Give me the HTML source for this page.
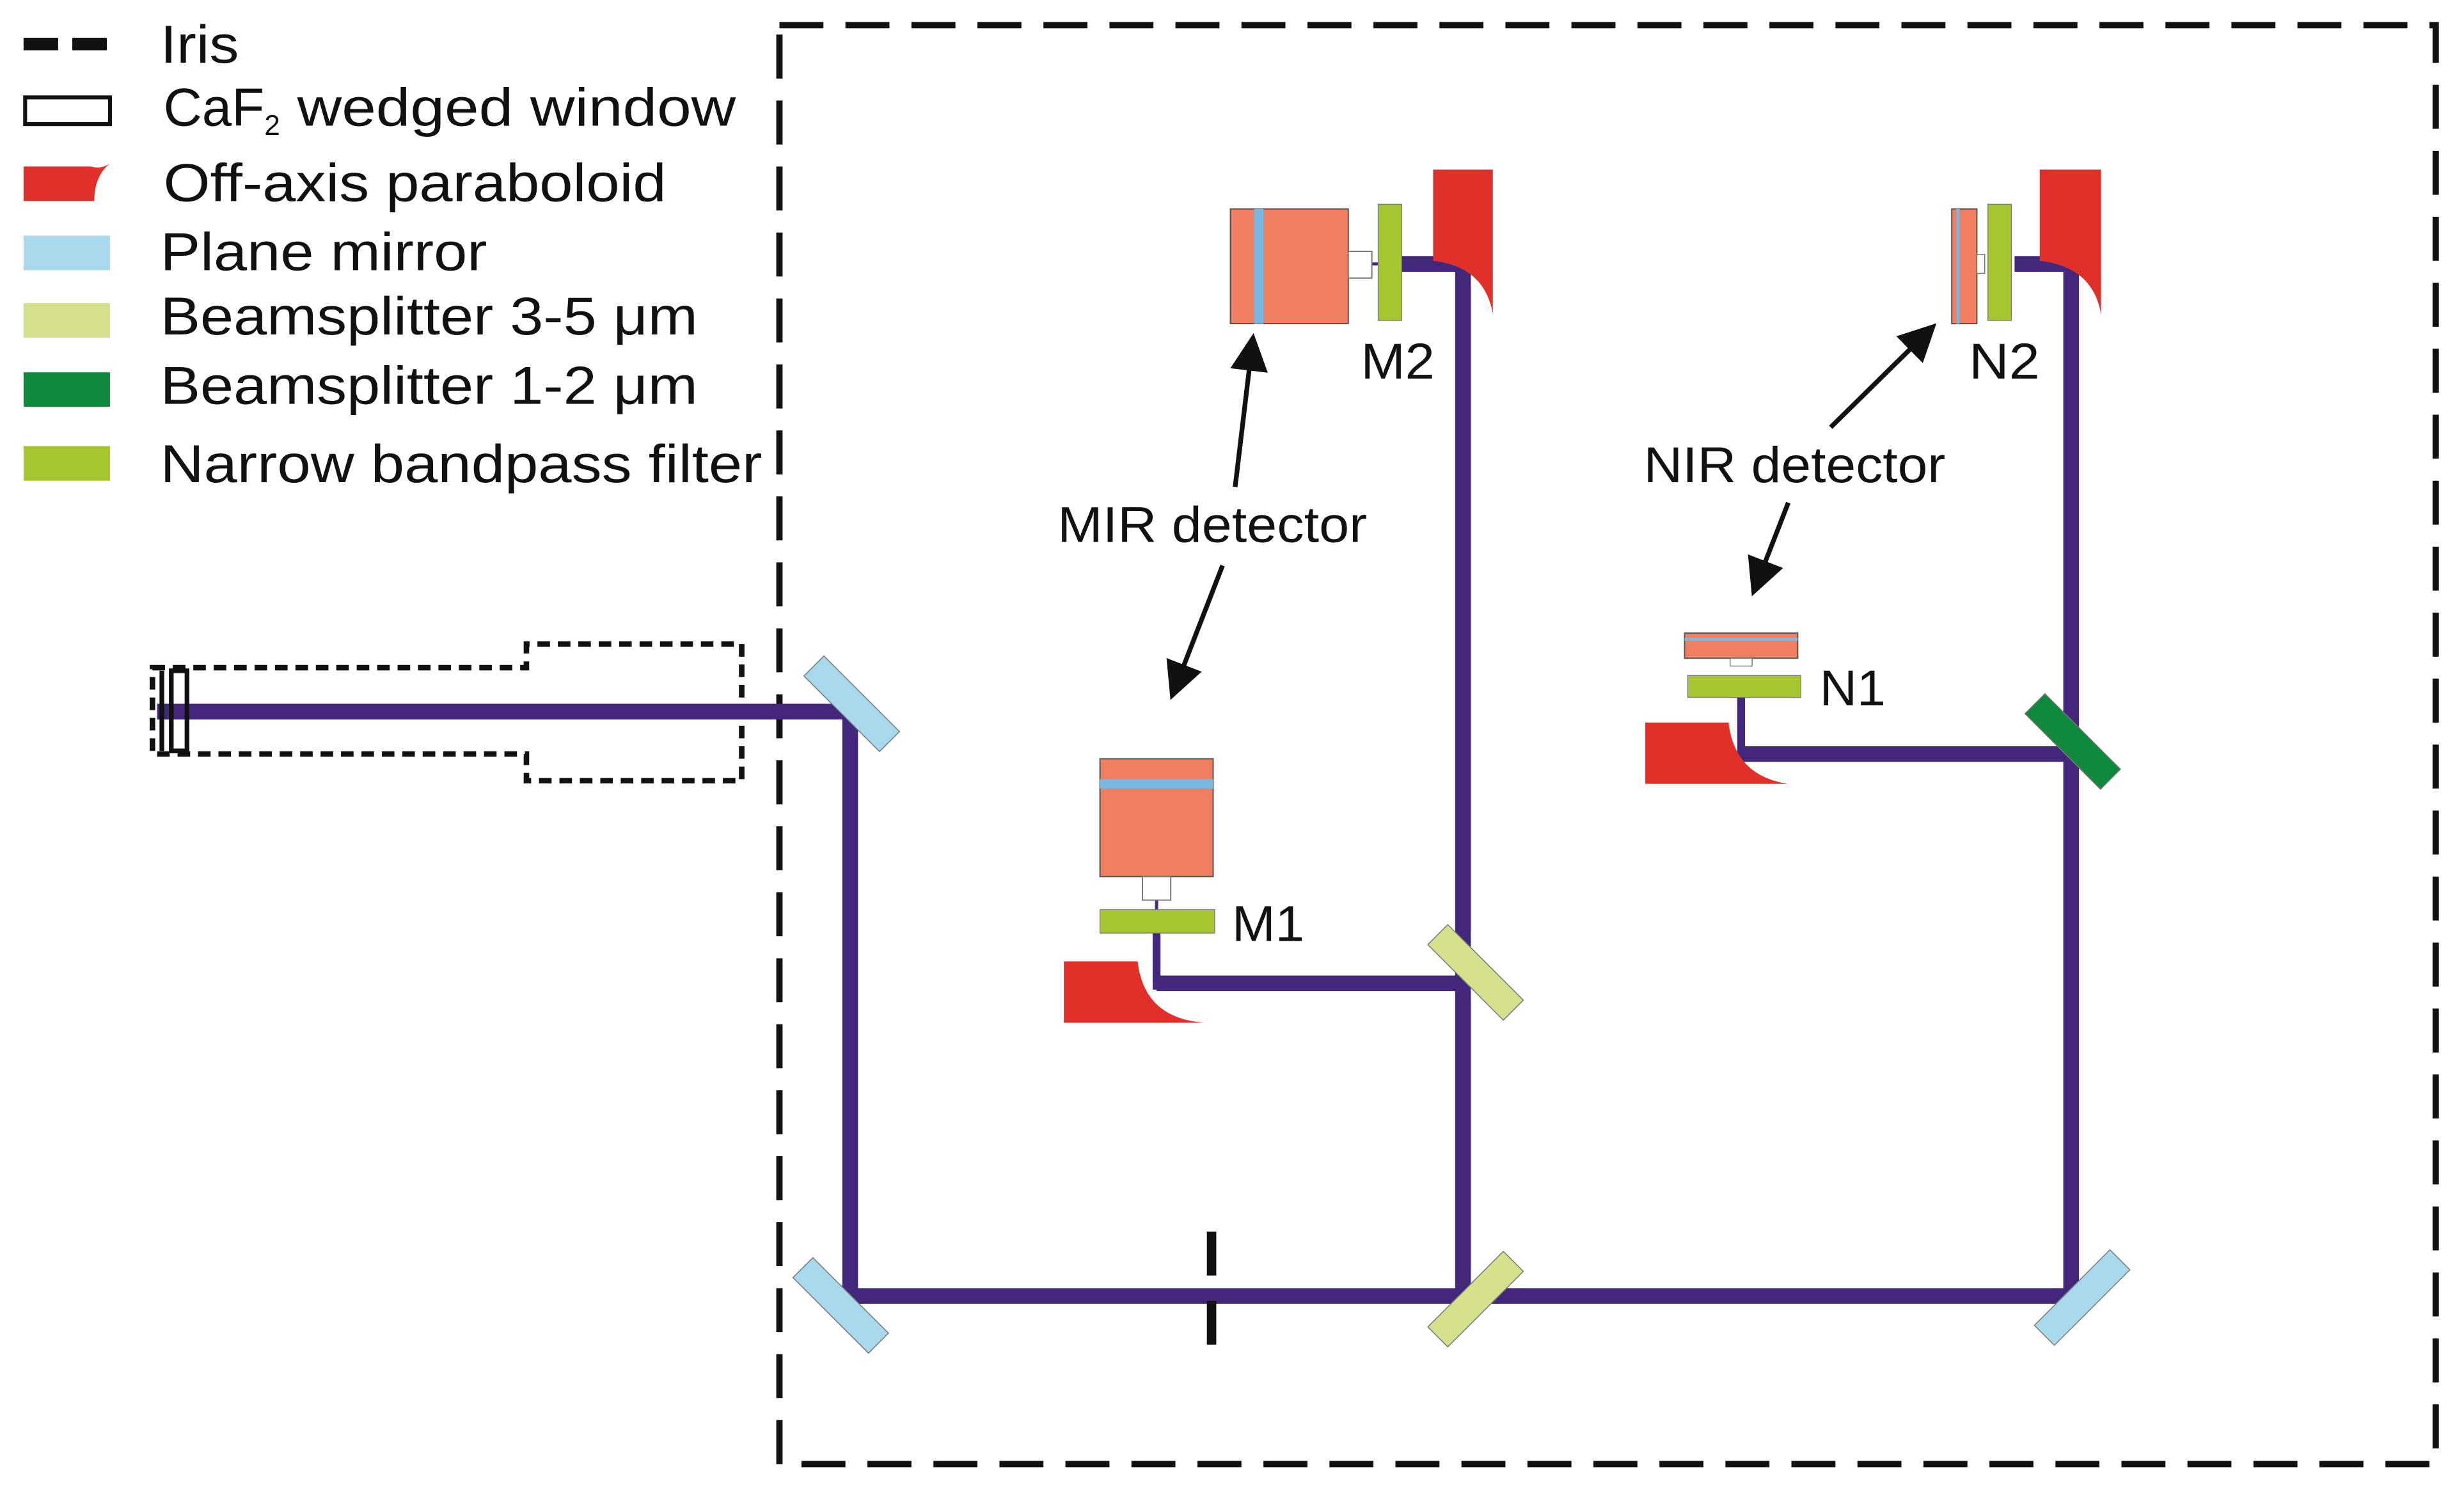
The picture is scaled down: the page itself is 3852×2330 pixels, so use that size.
<!DOCTYPE html>
<html><head><meta charset="utf-8"><style>
html,body{margin:0;padding:0;background:#fff}
svg{display:block}
text{font-family:"Liberation Sans",sans-serif;fill:#111}
</style></head><body>
<svg width="3852" height="2330" viewBox="0 0 1568 948.5" preserveAspectRatio="none" xmlns="http://www.w3.org/2000/svg">
<defs><marker id="ah" markerWidth="8" markerHeight="8" refX="6" refY="4" orient="auto" markerUnits="strokeWidth"><path d="M0,0 L8,4 L0,8 Z" fill="#111"/></marker></defs>
<!-- legend -->
<g font-size="34">
<line x1="15" y1="28" x2="70" y2="28" stroke="#111" stroke-width="8" stroke-dasharray="22 9"/>
<text x="102" y="40" textLength="50" lengthAdjust="spacingAndGlyphs">Iris</text>
<rect x="16" y="62" width="54" height="17" fill="#fff" stroke="#111" stroke-width="2.5"/>
<text x="104" y="80">CaF<tspan font-size="18" dy="6">2</tspan><tspan dy="-6" textLength="290" lengthAdjust="spacingAndGlyphs"> wedged window</tspan></text>
<path d="M15,106 L58,106 Q64,108 70,104 Q60,112 60,128 L15,128 Z" fill="#e0302a"/>
<text x="104" y="128" textLength="320" lengthAdjust="spacingAndGlyphs">Off-axis paraboloid</text>
<rect x="15" y="150" width="55" height="22" fill="#a8d8ec"/>
<text x="102" y="172" textLength="208" lengthAdjust="spacingAndGlyphs">Plane mirror</text>
<rect x="15" y="193" width="55" height="22" fill="#d5e08a"/>
<text x="102" y="213" textLength="342" lengthAdjust="spacingAndGlyphs">Beamsplitter 3-5 μm</text>
<rect x="15" y="237" width="55" height="22" fill="#0f8a3c"/>
<text x="102" y="257" textLength="342" lengthAdjust="spacingAndGlyphs">Beamsplitter 1-2 μm</text>
<rect x="15" y="284" width="55" height="22" fill="#a6c630"/>
<text x="102" y="307" textLength="383" lengthAdjust="spacingAndGlyphs">Narrow bandpass filter</text>
</g>
<!-- outer dashed box -->
<path d="M496,16 L1550,16 L1550,932 L496,932 Z" fill="none" stroke="#111" stroke-width="4" stroke-dasharray="28 14"/>
<!-- fiber dashed outline -->
<path d="M97,425 L335,425 L335,410 L472,410 L472,497 L335,497 L335,480 L97,480 Z" fill="none" stroke="#111" stroke-width="3.5" stroke-dasharray="8 5"/>
<!-- beams -->
<g stroke="#42277a" stroke-width="10" fill="none">
<path d="M100,453 L541,453 L541,825 L1318,825 L1318,168 L1282,168"/>
<path d="M931,825 L931,168 L892,168"/>
<path d="M931,626 L736,626"/>
<path d="M1318,480 L1108,480"/>
</g>
<g stroke="#42277a" stroke-width="5"><line x1="736" y1="630" x2="736" y2="594"/><line x1="1108" y1="484" x2="1108" y2="444"/></g>
<g stroke="#42277a" stroke-width="2"><line x1="736" y1="594" x2="736" y2="572"/><line x1="873" y1="168" x2="877" y2="168"/></g>
<!-- CaF2 window -->
<rect x="109" y="427" width="10" height="51" fill="none" stroke="#111" stroke-width="3"/>
<line x1="103" y1="427" x2="103" y2="478" stroke="#111" stroke-width="3"/>
<!-- iris -->
<line x1="771" y1="784" x2="771" y2="872" stroke="#111" stroke-width="6" stroke-dasharray="28 16"/>
<!-- mirrors -->
<g stroke="#777" stroke-width="0.6">
<rect x="-34" y="-9" width="68" height="18" fill="#a8d8ec" transform="translate(542,448) rotate(45)"/>
<rect x="-34" y="-9" width="68" height="18" fill="#a8d8ec" transform="translate(535,831) rotate(45)"/>
<rect x="-34" y="-9" width="68" height="18" fill="#a8d8ec" transform="translate(1325,826) rotate(-45)"/>
<rect x="-34" y="-9" width="68" height="18" fill="#d5e08a" transform="translate(939,827) rotate(-45)"/>
<rect x="-34" y="-9" width="68" height="18" fill="#d5e08a" transform="translate(939,619) rotate(45)"/>
<rect x="-34" y="-9" width="68" height="18" fill="#0f8a3c" transform="translate(1319,472) rotate(45)"/>
</g>
<!-- M2 -->
<rect x="783" y="133" width="75" height="73" fill="#ef7f60" stroke="#555" stroke-width="0.8"/>
<rect x="798" y="133" width="6" height="73" fill="#78b8e0"/>
<rect x="858" y="160" width="15" height="17" fill="#fff" stroke="#777" stroke-width="0.8"/>
<rect x="877" y="130" width="15" height="74" fill="#a6c630" stroke="#777" stroke-width="0.5"/>
<path d="M912,108 L950,108 L950,200 Q945,170 912,166 Z" fill="#e0302a"/>
<!-- N2 -->
<rect x="1242" y="133" width="16" height="73" fill="#ef7f60" stroke="#555" stroke-width="0.8"/>
<rect x="1245" y="133" width="2" height="73" fill="#78b8e0"/>
<rect x="1258" y="162" width="5" height="12" fill="#fff" stroke="#777" stroke-width="0.6"/>
<rect x="1265" y="130" width="15" height="74" fill="#a6c630" stroke="#777" stroke-width="0.5"/>
<path d="M1298,108 L1337,108 L1337,200 Q1332,170 1298,166 Z" fill="#e0302a"/>
<!-- M1 -->
<rect x="700" y="483" width="72" height="75" fill="#ef7f60" stroke="#555" stroke-width="0.8"/>
<rect x="700" y="496" width="72" height="6" fill="#78b8e0"/>
<rect x="727" y="558" width="18" height="15" fill="#fff" stroke="#777" stroke-width="0.8"/>
<rect x="700" y="579" width="73" height="15" fill="#a6c630" stroke="#777" stroke-width="0.5"/>
<path d="M677,612 L724,612 Q728,648 766,651 L677,651 Z" fill="#e0302a"/>
<!-- N1 -->
<rect x="1072" y="403" width="72" height="16" fill="#ef7f60" stroke="#555" stroke-width="0.8"/>
<rect x="1072" y="406" width="72" height="2" fill="#78b8e0"/>
<rect x="1101" y="419" width="14" height="5" fill="#fff" stroke="#777" stroke-width="0.6"/>
<rect x="1074" y="430" width="72" height="14" fill="#a6c630" stroke="#777" stroke-width="0.5"/>
<path d="M1047,460 L1100,460 Q1104,494 1138,499 L1047,499 Z" fill="#e0302a"/>
<!-- labels -->
<g font-size="32">
<text x="866" y="241" textLength="47" lengthAdjust="spacingAndGlyphs">M2</text>
<text x="1253" y="241" textLength="45" lengthAdjust="spacingAndGlyphs">N2</text>
<text x="673" y="345" textLength="197" lengthAdjust="spacingAndGlyphs">MIR detector</text>
<text x="1046" y="307" textLength="192" lengthAdjust="spacingAndGlyphs">NIR detector</text>
<text x="784" y="599" textLength="46" lengthAdjust="spacingAndGlyphs">M1</text>
<text x="1158" y="449" textLength="42" lengthAdjust="spacingAndGlyphs">N1</text>
</g>
<!-- arrows -->
<g stroke="#111" stroke-width="3" marker-end="url(#ah)">
<line x1="786" y1="310" x2="797" y2="218"/>
<line x1="778" y1="360" x2="747" y2="440"/>
<line x1="1165" y1="272" x2="1228" y2="210"/>
<line x1="1138" y1="320" x2="1117" y2="374"/>
</g>
</svg>
</body></html>
